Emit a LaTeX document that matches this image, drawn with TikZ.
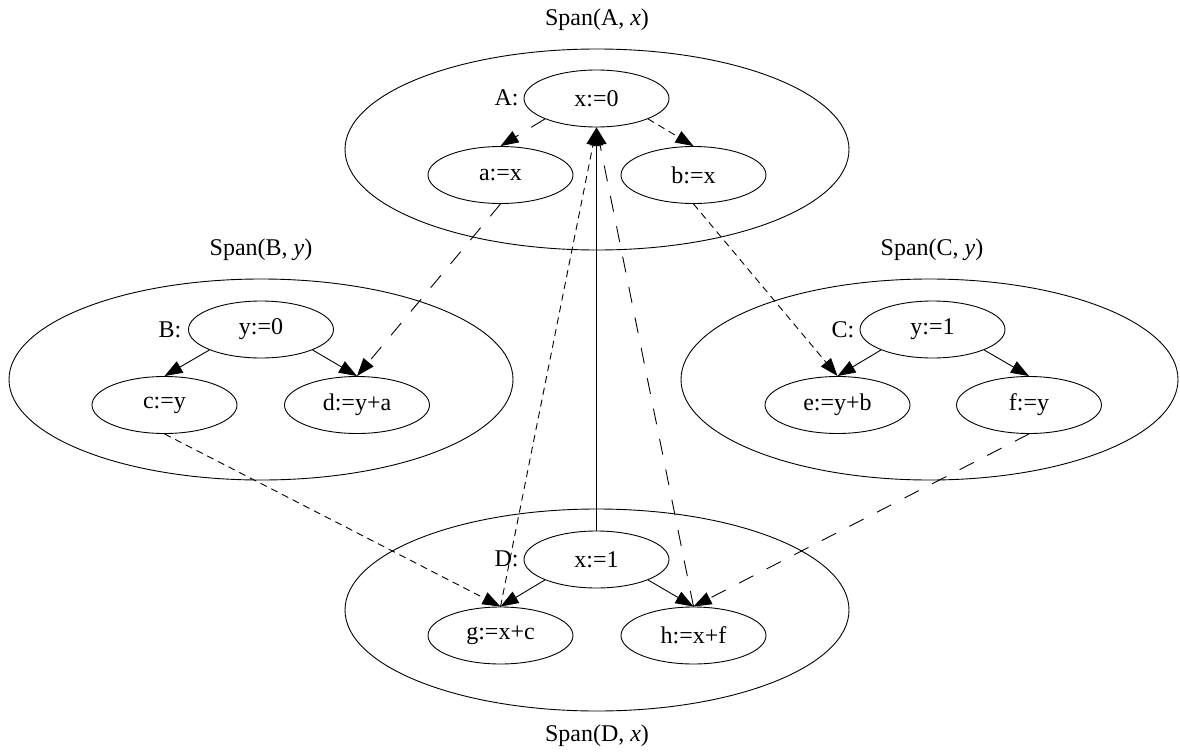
\documentclass[tikz,border=0pt]{standalone}
\usepackage{fontspec}
\setmainfont{Liberation Serif}
\usetikzlibrary{shapes.geometric,arrows.meta}

\tikzset{
  stmt/.style={draw, ellipse, minimum width=145pt, minimum height=57pt, inner sep=0pt},
  span/.style={draw, ellipse, inner sep=0pt},
  lbl/.style={inner sep=0pt},
  edge/.style={-{Triangle[length=18pt,width=13pt]}},
  shortdash/.style={edge, dash pattern=on 7pt off 5pt},
  longdash/.style={edge, dash pattern=on 16pt off 15pt},
}

\begin{document}
\begin{tikzpicture}[x=1pt, y=-1pt, line width=0.9pt, font=\fontsize{24}{28}\selectfont]
\useasboundingbox (0,0) rectangle (1180,752);

% span regions
\node[span, minimum width=504pt, minimum height=201pt] (spA) at (597,149.5) {};
\node[span, minimum width=504pt, minimum height=201pt] (spB) at (261,379.5) {};
\node[span, minimum width=497pt, minimum height=201pt] (spC) at (929.5,379.5) {};
\node[span, minimum width=504pt, minimum height=202pt] (spD) at (597,610) {};

\node[lbl] (tA) at (597,20) {Span(A, \textit{x})};
\node[lbl] (tB) at (261,250) {Span(B, \textit{y})};
\node[lbl] (tC) at (932,250) {Span(C, \textit{y})};
\node[lbl] (tD) at (597,736) {Span(D, \textit{x})};

% statements
\node[stmt] (A0) at (596.5,98.5) {x:=0};
\node[stmt] (a)  at (500.5,175) {a:=x};
\node[stmt] (b)  at (693.5,175) {b:=x};

\node[stmt] (B0) at (261,329.5) {y:=0};
\node[stmt] (c)  at (164.5,405) {c:=y};
\node[stmt] (d)  at (357,405) {d:=y+a};

\node[stmt] (C0) at (932.5,329.5) {y:=1};
\node[stmt] (e)  at (837.5,405) {e:=y+b};
\node[stmt] (f)  at (1029,405) {f:=y};

\node[stmt] (D0) at (596.5,559.5) {x:=1};
\node[stmt] (g)  at (500.5,635.5) {g:=x+c};
\node[stmt] (h)  at (693.5,635.5) {h:=x+f};

% block names
\node[lbl] (nA) at (506.5,98) {A:};
\node[lbl] (nB) at (170,330) {B:};
\node[lbl] (nC) at (843,330) {C:};
\node[lbl] (nD) at (506.5,559) {D:};

% dependencies inside each span
\draw[longdash]  (A0.south west) -- (a.north);
\draw[shortdash] (A0.south east) -- (b.north);
\draw[edge] (B0.south west) -- (c.north);
\draw[edge] (B0.south east) -- (d.north);
\draw[edge] (C0.south west) -- (e.north);
\draw[edge] (C0.south east) -- (f.north);
\draw[edge] (D0.south west) -- (g.north);
\draw[edge] (D0.south east) -- (h.north);

% dependencies between spans
\draw[longdash]  (a.south) -- (d.north);
\draw[shortdash] (b.south) -- (e.north);
\draw[shortdash] (c.south) -- (g.north);
\draw[longdash]  (f.south) -- (h.north);
\draw[shortdash] (g.north) -- (A0.south);
\draw[longdash]  (h.north) -- (A0.south);
\draw[edge] (D0.north) -- (A0.south);
\end{tikzpicture}
\end{document}
